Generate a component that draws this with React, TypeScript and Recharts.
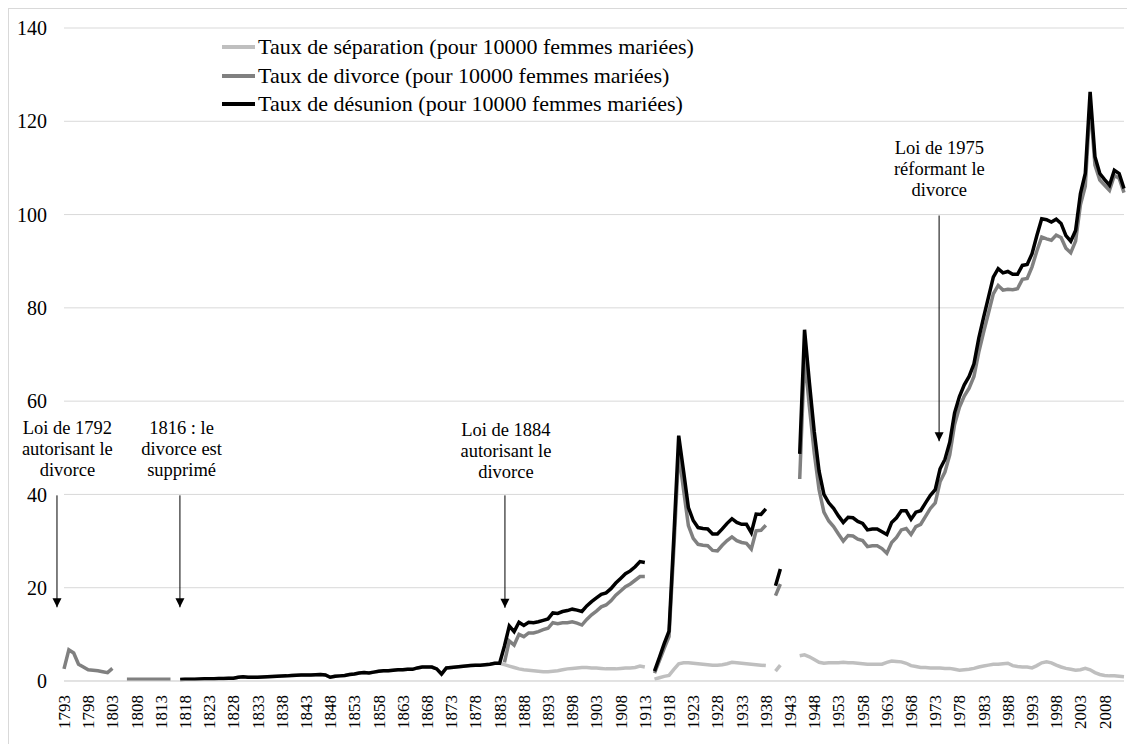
import {
  CartesianGrid,
  Legend,
  Line,
  LineChart,
  ReferenceDot,
  ReferenceLine,
  XAxis,
  YAxis,
} from 'recharts';

const FONT = '"Liberation Serif", "Times New Roman", serif';

const firstYear = 1793;

const seriesNames = [
  'Taux de séparation (pour 10000 femmes mariées)',
  'Taux de divorce (pour 10000 femmes mariées)',
  'Taux de désunion (pour 10000 femmes mariées)',
];

// Taux pour 10000 femmes mariées, une valeur par année depuis 1793 (null = pas de donnée)
const separation = [
  null, null, null, null, null, null, null, // 1793-1799
  null, null, null, null, null, null, null, null, null, null, // 1800
  null, null, null, null, null, null, null, 0.3, 0.35, 0.4, // 1810
  0.4, 0.45, 0.5, 0.5, 0.5, 0.55, 0.55, 0.6, 0.6, 0.8, // 1820
  0.9, 0.8, 0.8, 0.8, 0.85, 0.9, 0.95, 1.0, 1.05, 1.1, // 1830
  1.2, 1.25, 1.3, 1.3, 1.3, 1.35, 1.4, 1.3, 0.8, 1.0, // 1840
  1.1, 1.2, 1.4, 1.5, 1.7, 1.8, 1.7, 1.9, 2.1, 2.2, // 1850
  2.2, 2.3, 2.4, 2.4, 2.5, 2.5, 2.8, 3.0, 3.0, 3.0, // 1860
  2.6, 1.5, 2.8, 2.9, 3.0, 3.1, 3.2, 3.3, 3.4, 3.4, // 1870
  3.5, 3.6, 3.8, 3.8, 3.5, 3.2, 2.9, 2.6, 2.4, 2.3, // 1880
  2.2, 2.1, 2.0, 2.0, 2.1, 2.2, 2.4, 2.6, 2.7, 2.8, // 1890
  2.9, 2.9, 2.8, 2.8, 2.7, 2.6, 2.6, 2.6, 2.7, 2.8, // 1900
  2.8, 2.9, 3.2, 3.0, null, 0.4, 0.7, 1.0, 1.2, 2.5, // 1910
  3.7, 3.9, 3.9, 3.8, 3.7, 3.6, 3.5, 3.4, 3.4, 3.5, // 1920
  3.7, 4.0, 3.9, 3.8, 3.7, 3.6, 3.5, 3.4, 3.3, null, // 1930
  2.1, 3.4, null, null, null, 5.4, 5.6, 5.2, 4.6, 4.0, // 1940
  3.8, 3.9, 3.9, 3.9, 4.0, 3.9, 3.9, 3.8, 3.7, 3.6, // 1950
  3.6, 3.6, 3.6, 4.0, 4.3, 4.2, 4.1, 3.8, 3.3, 3.1, // 1960
  2.9, 2.9, 2.8, 2.8, 2.8, 2.7, 2.7, 2.5, 2.3, 2.4, // 1970
  2.5, 2.7, 3.0, 3.2, 3.4, 3.6, 3.6, 3.7, 3.8, 3.3, // 1980
  3.1, 3.0, 3.0, 2.8, 3.3, 3.9, 4.1, 3.9, 3.4, 3.0, // 1990
  2.7, 2.5, 2.3, 2.4, 2.7, 2.4, 1.8, 1.4, 1.2, 1.1, // 2000
  1.1, 1.0, 0.9, // 2010-2012
];

const divorce = [
  2.6, 6.7, 6.0, 3.6, 3.0, 2.4, 2.3, // 1793-1799
  2.2, 2.0, 1.8, 2.7, null, null, 0.4, 0.4, 0.4, 0.4, // 1800
  0.4, 0.4, 0.4, 0.4, 0.4, 0.4, null, null, null, null, // 1810
  null, null, null, null, null, null, null, null, null, null, // 1820
  null, null, null, null, null, null, null, null, null, null, // 1830
  null, null, null, null, null, null, null, null, null, null, // 1840
  null, null, null, null, null, null, null, null, null, null, // 1850
  null, null, null, null, null, null, null, null, null, null, // 1860
  null, null, null, null, null, null, null, null, null, null, // 1870
  null, null, null, null, 4.0, 8.6, 7.7, 10.0, 9.5, 10.3, // 1880
  10.3, 10.6, 11.0, 11.3, 12.5, 12.3, 12.5, 12.5, 12.7, 12.4, // 1890
  12.0, 13.2, 14.2, 15.0, 15.9, 16.3, 17.2, 18.4, 19.3, 20.2, // 1900
  20.8, 21.6, 22.4, 22.4, null, 1.7, 4.3, 7.0, 9.5, 28.5, // 1910
  49.0, 41.0, 33.3, 30.6, 29.3, 29.1, 29.0, 28.0, 27.9, 29.1, // 1920
  30.1, 30.9, 30.1, 29.7, 29.5, 28.3, 32.2, 32.3, 33.4, null, // 1930
  18.3, 20.8, null, null, null, 43.3, 69.7, 58.8, 48.9, 41.0, // 1940
  36.2, 34.3, 33.1, 31.5, 30.0, 31.2, 31.1, 30.4, 30.1, 28.8, // 1950
  29.0, 29.0, 28.4, 27.4, 29.7, 30.8, 32.4, 32.7, 31.4, 33.1, // 1960
  33.6, 35.3, 37.0, 38.2, 42.7, 44.8, 48.5, 55.0, 58.7, 61.1, // 1970
  62.8, 65.3, 70.5, 74.8, 78.9, 83.0, 84.8, 83.8, 84.0, 83.9, // 1980
  84.1, 86.1, 86.3, 88.8, 92.2, 95.2, 94.8, 94.5, 95.6, 95.1, // 1990
  92.8, 91.8, 94.3, 102.1, 106.1, 123.9, 110.6, 107.4, 106.3, 105.2, // 2000
  108.4, 107.8, 104.7, // 2010-2012
];

const desunion = [
  null, null, null, null, null, null, null, // 1793-1799
  null, null, null, null, null, null, null, null, null, null, // 1800
  null, null, null, null, null, null, null, 0.3, 0.35, 0.4, // 1810
  0.4, 0.45, 0.5, 0.5, 0.5, 0.55, 0.55, 0.6, 0.6, 0.8, // 1820
  0.9, 0.8, 0.8, 0.8, 0.85, 0.9, 0.95, 1.0, 1.05, 1.1, // 1830
  1.2, 1.25, 1.3, 1.3, 1.3, 1.35, 1.4, 1.3, 0.8, 1.0, // 1840
  1.1, 1.2, 1.4, 1.5, 1.7, 1.8, 1.7, 1.9, 2.1, 2.2, // 1850
  2.2, 2.3, 2.4, 2.4, 2.5, 2.5, 2.8, 3.0, 3.0, 3.0, // 1860
  2.6, 1.5, 2.8, 2.9, 3.0, 3.1, 3.2, 3.3, 3.4, 3.4, // 1870
  3.5, 3.6, 3.8, 3.8, 7.5, 11.8, 10.6, 12.6, 11.9, 12.6, // 1880
  12.5, 12.7, 13.0, 13.3, 14.6, 14.5, 14.9, 15.1, 15.4, 15.2, // 1890
  14.9, 16.1, 17.0, 17.8, 18.6, 18.9, 19.8, 21.0, 22.0, 23.0, // 1900
  23.6, 24.5, 25.6, 25.4, null, 2.1, 5.0, 8.0, 10.7, 31.0, // 1910
  52.6, 45.0, 37.2, 34.4, 32.9, 32.7, 32.6, 31.5, 31.5, 32.6, // 1920
  33.8, 34.8, 34.0, 33.6, 33.6, 31.8, 35.8, 35.7, 36.9, null, // 1930
  20.4, 24.0, null, null, null, 48.7, 75.3, 64.0, 53.5, 45.0, // 1940
  40.0, 38.2, 37.0, 35.4, 34.0, 35.1, 35.0, 34.2, 33.8, 32.4, // 1950
  32.6, 32.6, 32.0, 31.4, 34.0, 35.0, 36.5, 36.5, 34.7, 36.2, // 1960
  36.5, 38.2, 39.8, 41.0, 45.5, 47.5, 51.2, 57.5, 61.0, 63.5, // 1970
  65.3, 68.0, 73.5, 78.0, 82.3, 86.6, 88.4, 87.5, 87.8, 87.2, // 1980
  87.2, 89.1, 89.3, 91.6, 95.5, 99.1, 98.9, 98.4, 99.0, 98.1, // 1990
  95.5, 94.3, 96.6, 104.5, 108.8, 126.3, 112.4, 108.8, 107.5, 106.3, // 2000
  109.5, 108.8, 105.6, // 2010-2012
];

const years = separation.map((_, i) => firstYear + i);
const yearTicks = years.filter((y) => (y - firstYear) % 5 === 0);
const valueTicks = [0, 20, 40, 60, 80, 100, 120, 140];

const data = years.map((year, i) => ({
  year,
  separation: separation[i],
  divorce: divorce[i],
  desunion: desunion[i],
}));

const annotations = [
  { lines: ['Loi de 1792', 'autorisant le', 'divorce'], textX: 1793.7, textY: 54.4, arrowX: 1791.55, top: 39.8, tip: 15.8 },
  { lines: ['1816 : le', 'divorce est', 'supprimé'], textX: 1817.3, textY: 54.4, arrowX: 1816.95, top: 39.8, tip: 15.8 },
  { lines: ['Loi de 1884', 'autorisant le', 'divorce'], textX: 1884.3, textY: 54.0, arrowX: 1884.1, top: 39.8, tip: 15.7 },
  { lines: ['Loi de 1975', 'réformant le', 'divorce'], textX: 1973.85, textY: 114.4, arrowX: 1973.8, top: 99.8, tip: 51.4 },
];

function YearTick({ x, y, payload }: any) {
  return (
    <text
      x={x}
      y={y}
      transform={`rotate(-90, ${x}, ${y})`}
      textAnchor="end"
      dy="0.35em"
      fontFamily={FONT}
      fontSize={17}
      fill="#000"
    >
      {payload.value}
    </text>
  );
}

function renderLegend({ payload }: any) {
  const items = [...(payload || [])].sort(
    (a: any, b: any) => seriesNames.indexOf(a.value) - seriesNames.indexOf(b.value),
  );
  return (
    <div style={{ fontFamily: FONT, fontSize: 22, color: '#000' }}>
      {items.map((entry: any) => (
        <div key={entry.value} style={{ display: 'flex', alignItems: 'center', height: 28.5 }}>
          <span style={{ width: 33, height: 4, background: entry.color, marginRight: 3 }} />
          <span>{entry.value}</span>
        </div>
      ))}
    </div>
  );
}

export default function App() {
  return (
    <div
      style={{
        width: 1127,
        height: 736,
        borderTop: '1px solid #d9d9d9',
        borderLeft: '1px solid #d9d9d9',
        boxSizing: 'border-box',
      }}
    >
      <LineChart width={1126} height={735} data={data} margin={{ top: 19, right: 11, bottom: 3, left: 0 }}>
        <CartesianGrid vertical={false} stroke="#d9d9d9" />
        <XAxis
          dataKey="year"
          type="number"
          domain={[1793, 2012]}
          ticks={yearTicks}
          interval={0}
          tickLine={false}
          axisLine={{ stroke: '#d9d9d9' }}
          tickSize={6}
          tickMargin={8}
          height={60}
          tick={<YearTick />}
        />
        <YAxis
          type="number"
          domain={[0, 140]}
          ticks={valueTicks}
          width={55}
          tickLine={false}
          axisLine={false}
          tickSize={6}
          tickMargin={11}
          tick={{ fontFamily: FONT, fontSize: 20, fill: '#000' }}
        />
        <Legend
          layout="vertical"
          align="center"
          verticalAlign="middle"
          wrapperStyle={{ left: 213, top: 24, width: 600 }}
          content={renderLegend}
        />
        <Line
          dataKey="separation"
          name={seriesNames[0]}
          stroke="#bfbfbf"
          strokeWidth={3.5}
          dot={false}
          activeDot={false}
          isAnimationActive={false}
        />
        <Line
          dataKey="divorce"
          name={seriesNames[1]}
          stroke="#808080"
          strokeWidth={3.5}
          dot={false}
          activeDot={false}
          isAnimationActive={false}
        />
        <Line
          dataKey="desunion"
          name={seriesNames[2]}
          stroke="#000"
          strokeWidth={3.5}
          dot={false}
          activeDot={false}
          isAnimationActive={false}
        />
        {annotations.map((a) => [
          <ReferenceLine
            key={`l${a.arrowX}`}
            segment={[
              { x: a.arrowX, y: a.top },
              { x: a.arrowX, y: a.tip },
            ]}
            stroke="#000"
            strokeWidth={1}
            ifOverflow="visible"
          />,
          <ReferenceDot
            key={`h${a.arrowX}`}
            x={a.arrowX}
            y={a.tip}
            r={0}
            ifOverflow="visible"
            shape={(p: any) => (
              <polygon
                points={`${p.cx - 4.5},${p.cy - 9} ${p.cx + 4.5},${p.cy - 9} ${p.cx},${p.cy}`}
                fill="#000"
              />
            )}
          />,
          <ReferenceDot
            key={`t${a.arrowX}`}
            x={a.textX}
            y={a.textY}
            r={0}
            ifOverflow="visible"
            shape={(p: any) => (
              <text x={p.cx} y={p.cy} textAnchor="middle" fontFamily={FONT} fontSize={18.5} fill="#000">
                {a.lines.map((line, i) => (
                  <tspan key={i} x={p.cx} dy={i === 0 ? '0.35em' : 21}>
                    {line}
                  </tspan>
                ))}
              </text>
            )}
          />,
        ])}
      </LineChart>
    </div>
  );
}
